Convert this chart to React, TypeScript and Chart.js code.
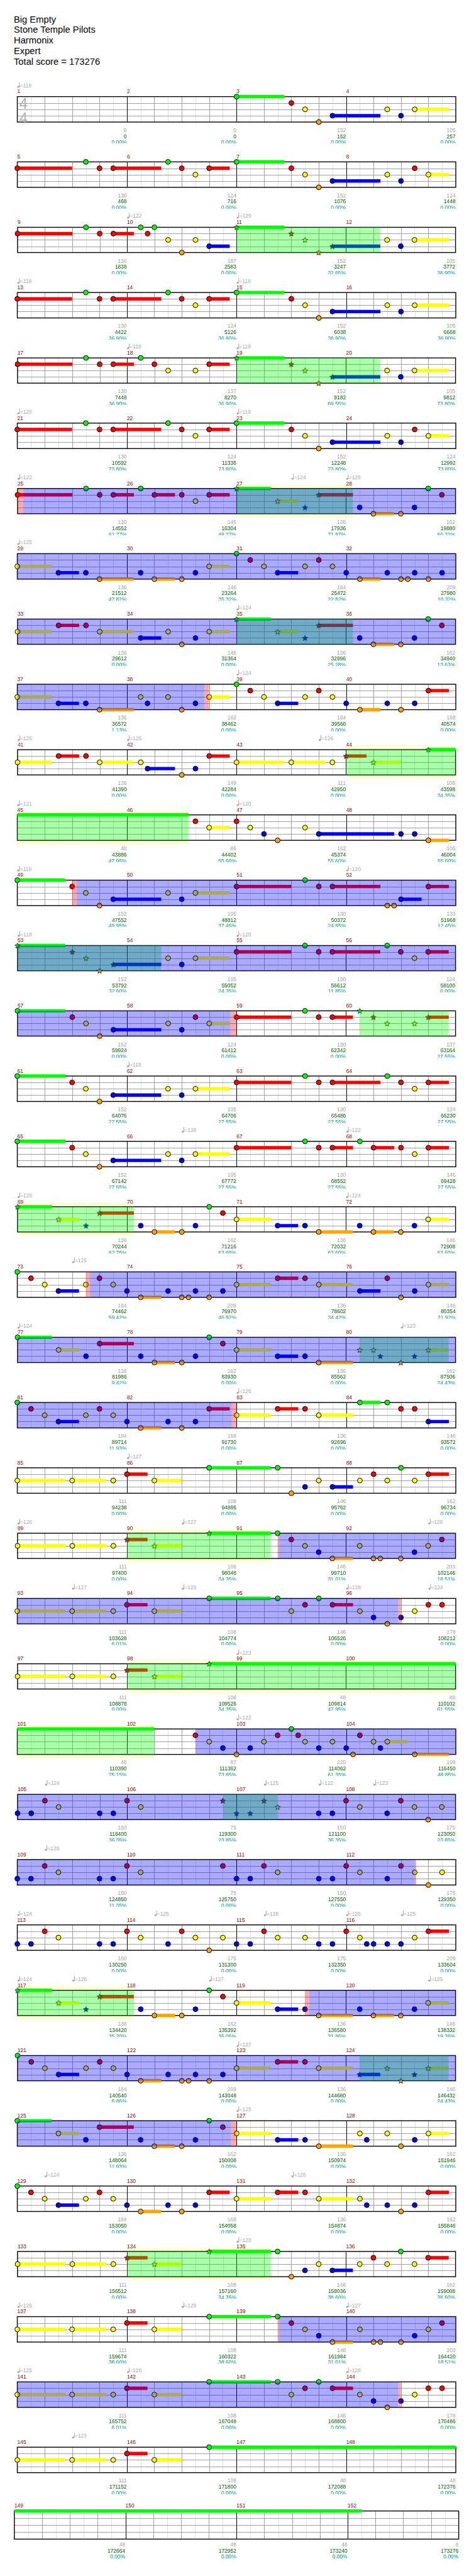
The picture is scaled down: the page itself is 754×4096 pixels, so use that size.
import React, { useEffect, useRef } from "react";
import { Chart, registerables } from "chart.js";

Chart.register(...registerables);

const S = 754 / 1024;
const FONT = '"Liberation Sans", Arial, Helvetica, sans-serif';

// ---------------- data ----------------
const SONG_INFO: string[] = ["Big Empty", "Stone Temple Pilots", "Harmonix", "Expert", "Total score = 173276"];

const LANE_KEYS = "GRYBO";
const LANE_COLORS: string[] = ["#00ff00", "#ff0000", "#ffff00", "#0000ff", "#ffa500"];

// one string per row of 4 measures; position in eighth notes (0..32), lane letter,
// "*" = star note, ">n" = sustain end, lowercase lane = sustain continued without head
const ROW_NOTES: string[] = [
  "16G>19.5 20R 21Y 22O 23B>26.5 27Y 28B 29Y>31.5",
  "0R>4 5G 6R 7R>10.5 11G 12R 13Y 14R>15.5 16G>19.5 20R 21Y 22O 23B>26.5 27Y 28B 29R 30Y>31.5",
  "0R>4 5G 6R 7R>8.5 9G 9.5R 10G 11Y 12O 13Y 14B>15.5 16G*>19.5 20R* 21Y* 22O* 23B*>26.5 27Y 28B 29Y>31.5",
  "0R>4 5G 6R 7R>10.5 11G 12R 13Y 14R>15.5 16G>19.5 20R 21Y 22O 23B>26.5 27Y 28B 29Y>31.5",
  "0R>4 5G 6R 7R>8.5 9G 10R 11Y 13Y 14R>15.5 16G*>19.5 20R* 21Y* 22O* 23B*>26.5 27Y 28B 29Y>31.5",
  "0R>4 5G 6R 7R>10.5 11G 12R 13Y 14R>15.5 16G>19.5 20R 21Y 22O 23B>26.5 27Y 28B 29R 30Y>31.5",
  "0R>4 5G 6R 7R>8.5 9G 10R>11.5 12R 13Y 14R>15.5 16G*>18.5 19Y*>20.5 21B* 22R*>24.5 25B 26O>27.5 28O 29B 30G 31R",
  "0Y>2.5 3B>4.5 5B 6O>8.5 9B 10O>11.5 12O 13B 14Y>15.5 16G 17R 18Y 19B>20.5 21Y 22R 23Y 24B 25O>26.5 27B 28O 28.5O 29B 30O 31B",
  "0Y>2.5 3R>4.5 5R 6Y>8.5 9B>10.5 11Y 12O 13B 14Y>15.5 16G*>18.5 19Y*>20.5 21B* 22R*>24.5 25B 26O>27.5 28O 29B 30G 31R",
  "0Y>2.5 3B>4.5 5B 6O>8.5 9Y 9.5B 11Y 12O 13B 14Y>15.5 16G 17R 18Y 19B>20.5 21Y 22R 23Y 24B 25O>26.5 27B 28O 29B 30R>31.5",
  "0Y>2.5 3R>4.5 5R 6Y>8.5 9Y 9.5B>11.5 12O 13B 14R>15.5 16Y>19.5 20Y>22.5 23Y 24R*>25.5 26Y*>28 30G*>32",
  "0g>12.5 13R 14Y>15.5 16R 17Y 18B 19O 21Y 22B>27.5 28B 29B 30O>31.5",
  "0G>3.5 4R 5Y 6O 7B>10.5 11Y 12B 13Y>15.5 16R>20 21G 22R 23R>26.5 27O 27.5O 28B>29.5 30R>31.5",
  "0G*>3.5 4R* 5Y* 6O* 7B*>10.5 11Y 12B 13Y>15.5 16R>20 21G 22R 23R>26.5 27G 28R 29Y 30R>31.5",
  "0G>3.5 4R 5Y 6O 7B>10.5 11Y 12B 13R 14Y>15.5 16R>20 21G 22R 23R>24.5 25G* 26R* 27Y* 29Y* 30R*>31.5",
  "0G>3.5 4R 5Y 6O 7B>10.5 11Y 12B 13Y>15.5 16R>20 21G 22R 23R>26.5 27G 28R 29Y 30R>31.5",
  "0G>3.5 4R 5Y 6O 7B>10.5 11Y 12B 13Y>15.5 16R>20 21G 22R 23R>24.5 25G 26R>27.5 28R 29Y 30R>31.5",
  "0G*>2.5 3Y*>4.5 5B* 6R*>8.5 9B 10O>11.5 12O 13B 14G 15R 16Y>18.5 19B>20.5 21B 22O>24.5 25B 26O>27.5 28O 29B 30Y>31.5",
  "0G 1R 2Y 3B>4.5 5Y 6R 7Y 8B 9O>10.5 11B 12O 12.5O 13B 14O 15B 16Y>18.5 19R>20.5 21R 22Y>24.5 25B>26.5 27R 28O 29B 30Y>31.5",
  "0G>2.5 3Y>4.5 5B 6R>8.5 9B 10O>11.5 12O 13B 14G 15R 16Y>18.5 19B>20.5 21B 22O>24.5 25Y* 26Y* 26.5B* 28O* 29B* 30Y*>31.5",
  "0G 1R 2Y 3B>4.5 5Y 6R 7Y 8B 9O>10.5 11B 12O 13B 14R>15.5 16Y>18.5 19R>20.5 21R 22Y>24.5 25G>26.5 27G 28R 29R 30B>31.5",
  "0Y>3.5 4Y>6.5 7Y 8R>9.5 10Y>12 14G>18.5 19G 20O 21B 22Y 23B>24.5 25Y 26R 27Y 28G 29Y 30R>31.5",
  "0Y>3.5 4Y>6.5 7Y 8R*>9.5 10Y*>12 14G*>18.5 19G 20R 21Y 22B 23O>24.5 25Y 26O 26.5O 28O 29B 30Y 31R",
  "0Y>3.5 4Y>6.5 7Y 8R>9.5 10Y>12 14G>18.5 19G 20Y 21R 22G 23R>24.5 25Y 26B 27O 28B 29Y 30R 31R",
  "0Y>3.5 4Y>6.5 7Y 8R*>9.5 10Y*>12 14G*>32",
  "0g>10 13R 14Y 15B 16O 17B 18Y 19R 20G 20.5R 21Y 22B 23Y 24B 24.5O 25R 26Y 26.5B 27Y>28.5 29O>31.5",
  "0B 1B 2R 3Y 6B 7B 8R 9Y 15R* 16B* 17B* 18R* 19Y* 22B 23B 24R 25Y 27B 28R 29Y 30O 31Y",
  "0B 1B 2R 3Y 6B 7B 8R 9Y 15R 16B 17B 18R 19Y 22B 23B 24R 25Y 27B 28R 29Y 30O 31Y",
  "0B 1B 2R 3Y 6B 7B 8R 9Y 11B 12R 13Y 14O 15Y 16B 17B 18R 19Y 21Y 22B 23B 24R 25Y 25.5B 26B 27B 28B 29Y 30R>31.5",
  "0G*>2.5 3Y*>4.5 5B* 6R*>8.5 9B 10O>11.5 12O 13B 14G 15R 16Y>18.5 19B>20.5 21B 22O>24.5 25B 26O>27.5 28O 29B 30Y>31.5",
  "0G 1R 2Y 3B>4.5 5Y 6R 7Y 8B 9O>10.5 11B 12O 12.5O 13B 14O 15B 16Y>18.5 19R>20.5 21R 22Y>24.5 25B*>26.5 27Y* 28O* 29B* 30Y*>31.5",
  "0G>2.5 3Y>4.5 5B 6R>8.5 9B 10O>11.5 12O 13B 14G 15R 16Y>18.5 19B>20.5 21B 22O>24.5 25Y 25.5B 27Y 28O 29B 30Y>31.5",
  "0G 1R 2Y 3B>4.5 5Y 6R 7Y 8B 9O>10.5 11B 12O 13B 14R>15.5 16Y>18.5 19R>20.5 21R 22Y>24.5 25Y 25.5B 27B 28O 29B 30R>31.5",
  "0Y>3.5 4Y>6.5 7Y 8R*>9.5 10Y*>12 14G*>18.5 19G 20O 21B 22Y 23B>24.5 25Y 26R 27Y 28G 29Y 30R>31.5",
  "0Y>3.5 4Y>6.5 7Y 8R>9.5 10Y>12 14G>18.5 19G 20R 21Y 22B 23O>24.5 25Y 26O 26.5O 28O 29B 30Y 31R",
  "0Y>3.5 4Y>6.5 7Y 8R>9.5 10Y>12 14G>18.5 19G 20Y 21R 22G 23R>24.5 25Y 26B 27O 28B 29Y 30R 31R",
  "0Y>3.5 4Y>6.5 7Y 8R>9.5 10Y>12 14G>32",
  "0g>25",
];

const MEASURE_SCORES: number[] = [
  0, 0, 152, 105, 130, 124, 152, 124, 130, 187, 152, 105, 130, 124, 152, 105,
  130, 137, 152, 105, 130, 124, 152, 124, 130, 146, 136, 162, 136, 146, 184, 209,
  136, 146, 136, 162, 136, 162, 184, 168, 136, 149, 111, 108, 48, 86, 162, 105,
  152, 105, 130, 133, 152, 105, 130, 124, 152, 124, 130, 137, 152, 105, 130, 124,
  152, 105, 130, 146, 136, 162, 136, 146, 184, 209, 136, 146, 136, 162, 136, 162,
  184, 168, 136, 146, 111, 108, 146, 162, 111, 108, 146, 203, 111, 108, 146, 178,
  111, 108, 48, 48, 48, 87, 225, 199, 150, 75, 150, 175, 150, 75, 150, 175,
  150, 175, 175, 209, 136, 162, 136, 146, 184, 209, 136, 146, 136, 162, 136, 162,
  184, 168, 136, 162, 111, 108, 146, 162, 111, 108, 146, 203, 111, 108, 146, 178,
  111, 108, 48, 48, 48, 48, 48, 6,
];

const TOTAL_SCORES: number[] = [
  0, 0, 152, 257, 468, 716, 1076, 1448, 1838, 2583, 3247, 3772, 4422, 5126, 6038, 6668,
  7448, 8270, 9182, 9812, 10592, 11336, 12248, 12992, 14552, 16304, 17936, 19880,
  21512, 23264, 25472, 27980, 29612, 31364, 32996, 34940, 36572, 38462, 39566, 40574,
  41390, 42284, 42950, 43598, 43886, 44402, 45374, 46004, 47552, 48812, 50372, 51968,
  53792, 55052, 56612, 58100, 59924, 61412, 62342, 63164, 64076, 64706, 65486, 66230,
  67142, 67772, 68552, 69428, 70244, 71216, 72032, 72908, 74462, 76970, 78602, 80354,
  81986, 83930, 85562, 87506, 89714, 91730, 92696, 93572, 94238, 94886, 95762, 96734,
  97400, 98048, 99710, 102146, 103628, 104774, 106526, 108212, 108878, 109526, 109814, 110102,
  110390, 111362, 114062, 116450, 118400, 119300, 121100, 123050, 124850, 125750, 127550, 129350,
  130250, 131300, 132350, 133604, 134420, 135392, 136580, 138332, 140540, 143048, 144680, 146432,
  148064, 150008, 150974, 151946, 153050, 154058, 154874, 155846, 156512, 157160, 158036, 159008,
  159674, 160322, 161984, 164420, 165752, 167048, 168800, 170486, 171152, 171800, 172088, 172376,
  172664, 172952, 173240, 173276,
];

const SP_PERCENT: number[] = [
  0, 0, 0, 0, 0, 0, 0, 0, 0, 0, 32.65, 36.9, 36.9, 36.9, 36.9, 36.9,
  36.9, 36.9, 69.55, 73.8, 73.8, 73.8, 73.8, 73.8, 61.77, 49.27, 71.97, 60.32,
  47.82, 35.32, 22.82, 10.32, 0, 0, 25.28, 13.63, 1.13, 0, 0, 0,
  0, 0, 0, 34.35, 47.95, 55.6, 55.6, 55.6, 49.95, 37.45, 24.95, 12.45,
  32.6, 24.35, 11.85, 0, 0, 0, 0, 27.55, 27.55, 27.55, 27.55, 27.55,
  27.55, 27.55, 27.55, 27.55, 62.75, 63.6, 63.6, 63.6, 59.42, 46.92, 34.42, 21.92,
  9.42, 0, 0, 24.43, 11.93, 0, 0, 0, 0, 0, 0, 0,
  0, 34.35, 31.01, 18.51, 6.01, 0, 0, 0, 0, 34.35, 47.95, 61.55,
  75.15, 73.85, 61.35, 48.85, 36.35, 23.85, 36.35, 23.85, 11.35, 0, 0, 0,
  0, 0, 0, 0, 35.2, 36.05, 31.86, 19.36, 6.86, 0, 0, 24.43,
  11.93, 0, 0, 0, 0, 0, 0, 0, 0, 34.35, 38.6, 38.6,
  38.6, 38.6, 31.01, 18.51, 6.01, 0, 0, 0, 0, 0, 0, 0,
  0, 0, 0, 0,
];

// [row (1-based), eighth position, bpm]
const TEMPO_MARKS: [number, number, number][] = [
  [1, 0, 119], [3, 8, 122], [3, 16, 120], [4, 0, 119], [4, 16, 118], [5, 8, 118], [5, 16, 119],
  [6, 0, 120], [6, 16, 119], [7, 0, 122], [7, 20, 124], [7, 24, 125], [8, 0, 125], [9, 16, 124],
  [10, 16, 124], [11, 0, 126], [11, 8, 125], [11, 22, 126], [12, 0, 121], [12, 16, 120],
  [13, 0, 119], [13, 24, 120], [14, 0, 118], [14, 16, 120], [16, 8, 118], [17, 12, 120], [17, 24, 122],
  [18, 0, 125], [18, 24, 124], [19, 4, 125], [20, 0, 124], [20, 28, 123], [21, 16, 126], [22, 8, 127],
  [23, 0, 126], [23, 12, 127], [23, 30, 126], [24, 4, 127], [24, 12, 129], [24, 24, 128], [24, 30, 124],
  [25, 16, 123], [26, 16, 122], [27, 2, 124], [27, 18, 125], [27, 22, 122], [27, 26, 123], [28, 2, 125],
  [29, 0, 124], [29, 10, 125], [29, 18, 128], [29, 24, 126], [29, 28, 125], [30, 0, 124], [30, 4, 126],
  [30, 14, 127], [30, 30, 125], [31, 16, 127], [32, 16, 125], [33, 2, 124], [33, 20, 126], [34, 16, 128],
  [35, 0, 126], [35, 12, 129], [35, 24, 127], [36, 0, 125], [36, 8, 128], [36, 24, 126], [37, 4, 123],
];

// [row, start eighth, end eighth]
const SP_PHRASES: [number, number, number][] = [
  [3, 16, 26.5], [5, 16, 26.5], [7, 16, 24.5], [9, 16, 24.5], [11, 24, 32], [12, 0, 12.5],
  [14, 0, 10.5], [15, 25, 31.5], [18, 0, 8.5], [20, 25, 31.5], [23, 8, 18.5], [25, 8, 32],
  [26, 0, 10], [27, 15, 19], [30, 0, 8.5], [31, 25, 31.5], [34, 8, 18.5],
];
const WHAMMY_BANDS: [number, number, number][] = [
  [7, 16, 24.5], [11, 24, 32], [12, 0, 12.5], [18, 0, 8.5], [23, 8, 18.5], [25, 8, 32],
  [26, 0, 10], [30, 0, 8.5], [34, 8, 18.5],
];
const OVERDRIVE: [number, number, number][] = [
  [7, 0.4, 32], [8, 0, 32], [9, 0, 32], [10, 0, 13.67], [13, 4.33, 32], [14, 0, 32], [15, 0, 15.56],
  [19, 5.3, 32], [20, 0, 32], [21, 0, 15.65], [23, 19.1, 32], [24, 0, 27.8], [26, 13, 32], [27, 0, 32],
  [28, 0, 29], [30, 21.3, 32], [31, 0, 32], [32, 0, 15.6], [35, 19.1, 32], [36, 0, 27.8],
];
const ACTIVATIONS: [number, number, number][] = [
  [7, 0, 0.4], [10, 13.67, 14], [13, 4, 4.33], [15, 15.56, 16], [19, 5, 5.3], [21, 15.65, 16],
  [23, 19, 19.1], [24, 27.8, 28], [28, 29, 29.1], [30, 21, 21.3], [32, 15.6, 16], [35, 19, 19.1],
  [36, 27.8, 28],
];

// ---------------- layout (reference pixels) ----------------
const STAFF_LEFT = 31;
const EIGHTH_W = 30;
const FIRST_STAFF_TOP = 205.3;
const ROW_PITCH = 141;
const LANE_GAP = 15.2;
const ROW_ABOVE = 36;
const ROW_BELOW = 105;
const NOTE_R = 5.3;
const STAR_R = 6;
const SUSTAIN_W = 7.3;
const SMALL_FONT = 11.5;

type Note = { pos: number; lane: number; star: boolean; head: boolean; end: number | null };

function parseNotes(s: string): Note[] {
  return s
    .split(/\s+/)
    .filter(Boolean)
    .map((tok) => {
      const m = tok.match(/^([\d.]+)([GRYBOgrybo])(\*?)(?:>([\d.]+))?$/);
      if (!m) return null;
      const upper = m[2].toUpperCase();
      return {
        pos: parseFloat(m[1]),
        lane: LANE_KEYS.indexOf(upper),
        star: m[3] === "*",
        head: m[2] === upper,
        end: m[4] ? parseFloat(m[4]) : null,
      } as Note;
    })
    .filter((n): n is Note => n !== null);
}

const starCache: Record<number, HTMLCanvasElement> = {};
function starImage(lane: number): HTMLCanvasElement {
  if (starCache[lane]) return starCache[lane];
  const R = STAR_R * S;
  const r = R * 0.45;
  const size = Math.ceil(R * 2 + 4);
  const c = document.createElement("canvas");
  c.width = size;
  c.height = size;
  const g = c.getContext("2d")!;
  const cx = size / 2;
  const cy = size / 2 + R * 0.1;
  g.beginPath();
  for (let i = 0; i < 10; i++) {
    const a = -Math.PI / 2 + (i * Math.PI) / 5;
    const rad = i % 2 === 0 ? R : r;
    g.lineTo(cx + rad * Math.cos(a), cy + rad * Math.sin(a));
  }
  g.closePath();
  g.fillStyle = LANE_COLORS[lane];
  g.fill();
  g.strokeStyle = "#000";
  g.lineWidth = 0.8;
  g.stroke();
  starCache[lane] = c;
  return c;
}

function sectionsFor(list: [number, number, number][], row: number): [number, number][] {
  return list.filter((s) => s[0] === row + 1).map((s) => [s[1], s[2]] as [number, number]);
}

function StaffRow({ row }: { row: number }) {
  const ref = useRef<HTMLCanvasElement>(null);
  const y0 = FIRST_STAFF_TOP + row * ROW_PITCH;
  const top = Math.round((y0 - ROW_ABOVE) * S);
  const h = Math.round((y0 + ROW_BELOW) * S) - top;

  useEffect(() => {
    const canvas = ref.current;
    if (!canvas) return;
    const notes = parseNotes(ROW_NOTES[row]);
    const datasets: any[] = [];
    notes.forEach((n) => {
      if (n.end !== null) {
        datasets.push({
          type: "line",
          data: [
            { x: n.pos, y: n.lane },
            { x: n.end, y: n.lane },
          ],
          borderColor: LANE_COLORS[n.lane],
          backgroundColor: LANE_COLORS[n.lane],
          borderWidth: SUSTAIN_W * S,
          borderCapStyle: "butt",
          pointRadius: 0,
          pointHoverRadius: 0,
          fill: false,
          tension: 0,
          order: 2,
        });
      }
    });
    for (let lane = 0; lane < 5; lane++) {
      const plain = notes.filter((n) => n.head && !n.star && n.lane === lane).map((n) => ({ x: n.pos, y: lane }));
      if (plain.length) {
        datasets.push({
          type: "scatter",
          data: plain,
          pointStyle: "circle",
          pointRadius: NOTE_R * S,
          pointBackgroundColor: LANE_COLORS[lane],
          pointBorderColor: "#000",
          pointBorderWidth: 1,
          order: 1,
        });
      }
      const stars = notes.filter((n) => n.head && n.star && n.lane === lane).map((n) => ({ x: n.pos, y: lane }));
      if (stars.length) {
        datasets.push({
          type: "scatter",
          data: stars,
          pointStyle: starImage(lane),
          pointRadius: STAR_R * S,
          order: 1,
        });
      }
    }

    const staffTopPx = y0 * S - top;
    const laneH = LANE_GAP * S;
    const yMin = -staffTopPx / laneH;
    const yMax = (h - staffTopPx) / laneH;
    const xMin = -STAFF_LEFT / EIGHTH_W;
    const xMax = (754 / S - STAFF_LEFT) / EIGHTH_W;

    const sp = sectionsFor(SP_PHRASES, row);
    const od = sectionsFor(OVERDRIVE, row);
    const act = sectionsFor(ACTIVATIONS, row);
    const bands = sectionsFor(WHAMMY_BANDS, row);
    const tempos = TEMPO_MARKS.filter((t) => t[0] === row + 1);

    const plugin = {
      id: "staff" + row,
      beforeDatasetsDraw(chart: any) {
        const ctx = chart.ctx as CanvasRenderingContext2D;
        const X = (e: number) => chart.scales.x.getPixelForValue(e);
        const Y = (v: number) => chart.scales.y.getPixelForValue(v);
        const x0 = X(0);
        const x1 = X(32);
        const yt = Y(0);
        const yb = Y(4);
        ctx.save();
        const pad = 10 / LANE_GAP;
        bands.forEach(([a, b]) => {
          ctx.fillStyle = "#ffffd4";
          ctx.fillRect(X(a), Y(-pad), X(b) - X(a), Y(4 + pad) - Y(-pad));
        });
        ctx.fillStyle = "#ffffff";
        ctx.fillRect(x0, yt, x1 - x0, yb - yt);
        ctx.lineWidth = 1;
        const vline = (e: number, color: string) => {
          const x = Math.round(X(e)) + 0.5;
          ctx.strokeStyle = color;
          ctx.beginPath();
          ctx.moveTo(x, yt);
          ctx.lineTo(x, yb);
          ctx.stroke();
        };
        for (let e = 1; e < 32; e += 2) vline(e, "#e2e2e2");
        for (let e = 2; e < 32; e += 2) if (e % 8 !== 0) vline(e, "#a0a0a0");
        for (let l = 1; l < 4; l++) {
          const y = Math.round(Y(l)) + 0.5;
          ctx.strokeStyle = "#a0a0a0";
          ctx.beginPath();
          ctx.moveTo(x0, y);
          ctx.lineTo(x1, y);
          ctx.stroke();
        }
        for (let e = 8; e < 32; e += 8) vline(e, "#000000");
        ctx.strokeStyle = "#000";
        ctx.lineWidth = 1.4;
        ctx.strokeRect(x0, yt, x1 - x0, yb - yt);
        if (row === 0) {
          ctx.fillStyle = "#b0b0b0";
          ctx.font = `${33 * S}px ${FONT}`;
          ctx.textAlign = "left";
          ctx.textBaseline = "alphabetic";
          ctx.fillText("4", x0 + 4 * S, yt + 26.7 * S);
          ctx.fillText("4", x0 + 4 * S, yt + 57.7 * S);
        }
        ctx.restore();
      },
      afterDatasetsDraw(chart: any) {
        const ctx = chart.ctx as CanvasRenderingContext2D;
        const X = (e: number) => chart.scales.x.getPixelForValue(e);
        const Y = (v: number) => chart.scales.y.getPixelForValue(v);
        const yt = Y(0);
        const yb = Y(4);
        ctx.save();
        sp.forEach(([a, b]) => {
          ctx.fillStyle = "rgba(0,255,0,0.333)";
          ctx.fillRect(X(a), yt, X(b) - X(a), yb - yt);
        });
        od.forEach(([a, b]) => {
          ctx.fillStyle = "rgba(0,0,255,0.333)";
          ctx.fillRect(X(a), yt, X(b) - X(a), yb - yt);
        });
        act.forEach(([a, b]) => {
          ctx.fillStyle = "rgba(255,0,0,0.333)";
          ctx.fillRect(X(a), yt, Math.max(1, X(b) - X(a)), yb - yt);
        });

        ctx.font = `${SMALL_FONT * S}px ${FONT}`;
        ctx.textBaseline = "alphabetic";
        for (let m = 0; m < 4; m++) {
          const idx = row * 4 + m;
          ctx.textAlign = "left";
          ctx.fillStyle = "#990000";
          ctx.fillText(String(idx + 1), X(m * 8), yt - 7 * S);
          const xr = X((m + 1) * 8) - 0.5 * S;
          ctx.textAlign = "right";
          ctx.fillStyle = "#a0a0a0";
          ctx.fillText(String(MEASURE_SCORES[idx]), xr, yt + 76.4 * S);
          ctx.fillStyle = "#006400";
          ctx.fillText(String(TOTAL_SCORES[idx]), xr, yt + 89.7 * S);
          ctx.fillStyle = "#009999";
          ctx.fillText(SP_PERCENT[idx].toFixed(2) + "%", xr, yt + 103 * S);
        }
        tempos.forEach(([, e, bpm]) => {
          const x = X(e);
          ctx.fillStyle = "#a8a8a8";
          ctx.beginPath();
          ctx.ellipse(x + 2.4 * S, yt - 21 * S, 2.5 * S, 2 * S, -0.3, 0, Math.PI * 2);
          ctx.fill();
          ctx.fillRect(x + 4.1 * S, yt - 31 * S, 1, 10 * S);
          ctx.textAlign = "left";
          ctx.fillText("=" + bpm, x + 5.8 * S, yt - 20.3 * S);
        });
        ctx.restore();
      },
    };

    const chart = new Chart(canvas, {
      type: "scatter",
      data: { datasets },
      options: {
        animation: false,
        responsive: false,
        maintainAspectRatio: false,
        devicePixelRatio: 1,
        events: [],
        layout: { padding: 0 },
        plugins: { legend: { display: false }, tooltip: { enabled: false }, title: { display: false } },
        scales: {
          x: { type: "linear", min: xMin, max: xMax, display: false },
          y: { type: "linear", min: yMin, max: yMax, reverse: true, display: false },
        },
      } as any,
      plugins: [plugin],
    } as any);
    return () => chart.destroy();
  }, [row]);

  return (
    <canvas
      ref={ref}
      width={754}
      height={h}
      style={{ position: "absolute", left: 0, top, width: 754, height: h, display: "block" }}
    />
  );
}

export default function App() {
  const rows = ROW_NOTES.map((_, i) => i);
  return (
    <div style={{ position: "absolute", left: 0, top: 0, width: 754, height: 4096, background: "#fff", overflow: "hidden" }}>
      <div
        style={{
          position: "absolute",
          left: 22,
          top: 22.7,
          fontFamily: FONT,
          fontSize: 20 * S,
          lineHeight: `${22.7 * S}px`,
          color: "#000",
          whiteSpace: "nowrap",
        }}
      >
        {SONG_INFO.map((t) => (
          <div key={t}>{t}</div>
        ))}
      </div>
      {rows.map((r) => (
        <StaffRow key={r} row={r} />
      ))}
    </div>
  );
}
